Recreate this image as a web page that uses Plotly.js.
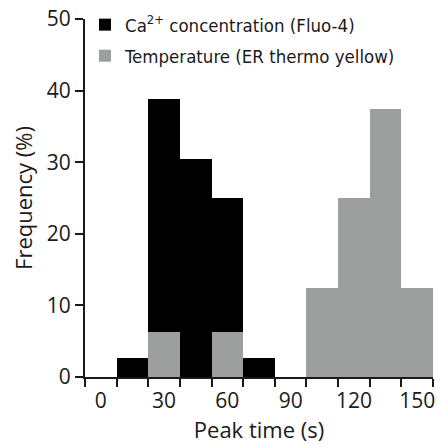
<!DOCTYPE html>
<html>
<head>
<meta charset="utf-8">
<script src="https://cdn.plot.ly/plotly-3.0.1.min.js"></script>
<style>html,body{margin:0;padding:0;background:#fff;}#chart{width:443px;height:448px;}</style>
</head>
<body>
<div id="chart"></div>
<script>
// Bin centres (s), bin width 15 s
const binCentersCa = [15, 30, 45, 60, 75];
const caFrequency = [2.7, 38.8, 30.5, 25.0, 2.7];
const binCentersTemp = [30, 60, 105, 120, 135, 150];
const tempFrequency = [6.25, 6.25, 12.5, 25.0, 37.5, 12.5];
const binWidth = 15;
const xTickLabels = [0, 30, 60, 90, 120, 150];
const xBinEdges = [-7.5, 7.5, 22.5, 37.5, 52.5, 67.5, 82.5, 97.5, 112.5, 127.5, 142.5, 157.5];
const yTicks = [0, 10, 20, 30, 40, 50];

const tickFont = {family: '"Open Sans", "Noto Sans", sans-serif', size: 21, color: '#1a1a1a'};
const titleFont = {family: '"Open Sans", "Noto Sans", sans-serif', size: 22, color: '#1a1a1a'};
const legendFont = {family: '"DejaVu Sans Condensed", Roboto, sans-serif', size: 18.5, color: '#1a1a1a'};

const traces = [
  {type: 'bar', x: binCentersCa, y: caFrequency, width: binWidth,
   name: 'Ca<sup>2+</sup> concentration (Fluo-4)', legendgroup: 'ca',
   marker: {color: '#000000', line: {width: 0}}},
  {type: 'bar', x: binCentersTemp, y: tempFrequency, width: binWidth,
   name: 'Temperature (ER thermo yellow)', legendgroup: 'temp',
   marker: {color: '#9d9f9e', line: {width: 0}}},
  {type: 'scatter', x: [null], y: [null], xaxis: 'x2', showlegend: false, hoverinfo: 'skip'}
];

const layout = {
  width: 443, height: 448,
  margin: {l: 85, r: 10, t: 19, b: 71, autoexpand: false},
  paper_bgcolor: '#fff', plot_bgcolor: '#fff',
  barmode: 'overlay', bargap: 0,
  showlegend: true,
  legend: {x: 0.0, y: 1.036, xanchor: 'left', yanchor: 'top', font: legendFont,
           bgcolor: 'rgba(0,0,0,0)', traceorder: 'grouped', tracegroupgap: 4, itemwidth: 30},
  xaxis: {range: [-7.5, 157.5], tickvals: xBinEdges, ticktext: xBinEdges.map(() => ''),
          ticks: 'outside', ticklen: 8, tickwidth: 2, tickcolor: '#1a1a1a',
          showline: true, linecolor: '#1a1a1a', linewidth: 2,
          showgrid: false, zeroline: false, fixedrange: true, automargin: false,
          title: {text: 'Peak time (s)', font: titleFont, standoff: 34}},
  xaxis2: {overlaying: 'x', anchor: 'y', side: 'bottom', range: [-7.5, 157.5],
           tickvals: xTickLabels, ticktext: xTickLabels.map(String), tickangle: 0,
           ticks: 'outside', ticklen: 5, tickcolor: 'rgba(0,0,0,0)', automargin: false,
           showline: false, showgrid: false, zeroline: false, tickfont: tickFont},
  yaxis: {range: [0, 50], tickvals: yTicks, ticktext: yTicks.map(String),
          ticks: 'outside', ticklen: 8, tickwidth: 2, tickcolor: '#1a1a1a',
          showline: true, linecolor: '#1a1a1a', linewidth: 2, automargin: false,
          showgrid: false, zeroline: false, tickfont: tickFont,
          title: {text: 'Frequency (%)', font: titleFont, standoff: 8}}
};

Plotly.newPlot('chart', traces, layout, {displayModeBar: false, staticPlot: true});
</script>
</body>
</html>
